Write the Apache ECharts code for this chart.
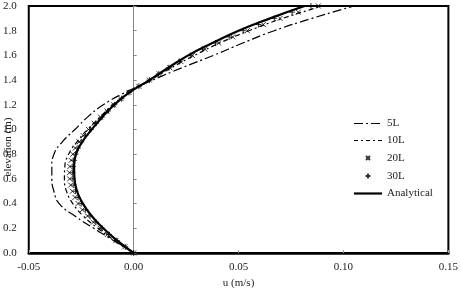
<!DOCTYPE html>
<html><head><meta charset="utf-8">
<script src="https://cdn.jsdelivr.net/npm/echarts@6/dist/echarts.min.js"></script>
<style>html,body{margin:0;padding:0;background:#fff}#c{width:461px;height:294px}</style>
</head><body><div id="c"></div>
<script>
const xTicks = [-0.05, 0.00, 0.05, 0.10, 0.15];
const yTicks = [0.0, 0.2, 0.4, 0.6, 0.8, 1.0, 1.2, 1.4, 1.6, 1.8, 2.0];
const seriesNames = ['5L', '10L', '20L', '30L', 'Analytical'];

// elevation levels (m)
const zLine = [0,0.1,0.2,0.3,0.4,0.5,0.6,0.7,0.8,0.9,1.0,1.1,1.2,1.3,1.4,1.5,1.6,1.7,1.8,1.9,2.0];
const zMark = [0,0.05,0.1,0.15,0.2,0.25,0.3,0.35,0.4,0.45,0.5,0.55,0.6,0.65,0.7,0.75,0.8,0.85,0.9,0.95,1.0,1.05,1.1,1.15,1.2,1.25,1.3,1.35,1.4,1.45,1.5,1.55,1.6,1.65,1.7,1.75,1.8,1.85,1.9,1.95,2.0];

// velocities u (m/s)
const u5L = [0,-0.0095,-0.019,-0.028,-0.0355,-0.038,-0.039,-0.039,-0.038,-0.034,-0.028,-0.022,-0.0145,-0.004,0.009,0.023,0.038,0.052,0.067,0.085,0.105];
const u10L = [0,-0.009,-0.017,-0.024,-0.029,-0.032,-0.033,-0.0328,-0.031,-0.027,-0.022,-0.016,-0.010,-0.002,0.008,0.018,0.029,0.041,0.055,0.071,0.090];
const u20L = [0,-0.0042,-0.0085,-0.0125,-0.016,-0.0192,-0.022,-0.0245,-0.0265,-0.028,-0.0292,-0.030,-0.0305,-0.0306,-0.0304,-0.0298,-0.029,-0.0278,-0.026,-0.024,-0.0215,-0.0188,-0.0158,-0.0127,-0.0095,-0.006,-0.0022,0.0025,0.0075,0.0122,0.0172,0.0225,0.028,0.034,0.0405,0.0472,0.0542,0.0618,0.0698,0.0785,0.088];
const u30L = [0,-0.004,-0.008,-0.0118,-0.015,-0.018,-0.0208,-0.023,-0.025,-0.0265,-0.0277,-0.0285,-0.029,-0.0292,-0.029,-0.0285,-0.0277,-0.0265,-0.025,-0.023,-0.0205,-0.018,-0.0152,-0.0122,-0.0092,-0.0058,-0.0022,0.0025,0.0075,0.012,0.0168,0.0218,0.027,0.0328,0.039,0.0455,0.0522,0.0595,0.067,0.0755,0.0845];
const uAna = [0,-0.0078,-0.0145,-0.0200,-0.0242,-0.0270,-0.0282,-0.0284,-0.0275,-0.0245,-0.0200,-0.0150,-0.0092,-0.0020,0.0075,0.0165,0.0260,0.0375,0.0500,0.0650,0.0815];

const pair = (u, z) => u.map((v, i) => [v, z[i]]);
const FONT = 'Liberation Serif';

const icons = {
  '5L': 'path://M0,0M28,10M0,4.4h9v1.2h-9zM12,4.4h2v1.2h-2zM17,4.4h9v1.2h-9z',
  '10L': 'path://M0,0M28,10M0,4.4h4v1.2h-4zM7,4.4h2v1.2h-2zM12,4.4h4v1.2h-4zM19,4.4h2v1.2h-2zM24,4.4h4v1.2h-4z',
  '20L': 'path://M0,0M28,10M12,3L16,7M16,3L12,7',
  '30L': 'path://M0,0M28,10M14,2.5L14,7.5M11.5,5L16.5,5',
  'Analytical': 'path://M0,0M28,10M0,3.9h28v2.2h-28z'
};

const chart = echarts.init(document.getElementById('c'));
chart.setOption({
  animation: false,
  textStyle: { fontFamily: FONT },
  grid: { left: 26, right: 9, top: 6, bottom: 31, show: true, borderColor: '#000', borderWidth: 2, backgroundColor: 'transparent' },
  xAxis: {
    type: 'value', min: xTicks[0], max: xTicks[xTicks.length - 1], interval: 0.05,
    name: 'u (m/s)', nameLocation: 'middle', nameGap: 25,
    nameTextStyle: { fontFamily: FONT, fontSize: 11, color: '#222' },
    axisLine: { onZero: false, lineStyle: { color: '#000', width: 2.5 } },
    axisTick: { inside: true, length: 3, lineStyle: { color: '#999' } },
    axisLabel: { fontFamily: FONT, fontSize: 11, color: '#222', margin: 9, formatter: v => v.toFixed(2) },
    splitLine: { show: false }
  },
  yAxis: {
    type: 'value', min: yTicks[0], max: yTicks[yTicks.length - 1], interval: 0.2,
    axisLine: { onZero: true, lineStyle: { color: '#888', width: 1 } },
    axisTick: { inside: true, length: 3, lineStyle: { color: '#888' } },
    axisLabel: { fontFamily: FONT, fontSize: 11, color: '#222', margin: 12, formatter: v => v.toFixed(1) },
    splitLine: { show: false }
  },
  graphic: [{
    type: 'text', left: 3, top: 'middle', rotation: Math.PI / 2,
    style: { text: 'elevation (m)', font: '11px "Liberation Serif"', fill: '#222' },
    x: 4, y: 134
  }],
  legend: {
    orient: 'vertical', left: 348, top: 113, itemWidth: 28, itemHeight: 10, itemGap: 6,
    textStyle: { fontFamily: FONT, fontSize: 11, color: '#222' },
    data: seriesNames.map(n => ({ name: n, icon: icons[n] }))
  },
  series: [
    { name: '5L', type: 'line', data: pair(u5L, zLine), showSymbol: false, symbol: 'none', smooth: true,
      lineStyle: { color: '#000', width: 1.2, type: [9, 3, 2, 3] }, itemStyle: { color: '#000' } },
    { name: '10L', type: 'line', data: pair(u10L, zLine), showSymbol: false, symbol: 'none', smooth: true,
      lineStyle: { color: '#000', width: 1.2, type: [5, 3, 2, 3] }, itemStyle: { color: '#000' } },
    { name: '20L', type: 'scatter', data: pair(u20L, zMark), symbol: 'path://M0,0L10,10M10,0L0,10', symbolSize: 5,
      itemStyle: { color: 'rgba(0,0,0,0)', borderColor: '#000', borderWidth: 1 } },
    { name: '30L', type: 'scatter', data: pair(u30L, zMark), symbol: 'path://M5,0L5,10M0,5L10,5', symbolSize: 6,
      itemStyle: { color: 'rgba(0,0,0,0)', borderColor: '#000', borderWidth: 1 } },
    { name: 'Analytical', type: 'line', data: pair(uAna, zLine), showSymbol: false, symbol: 'none', smooth: true,
      lineStyle: { color: '#000', width: 2.2 }, itemStyle: { color: '#000' } }
  ]
});
</script></body></html>
